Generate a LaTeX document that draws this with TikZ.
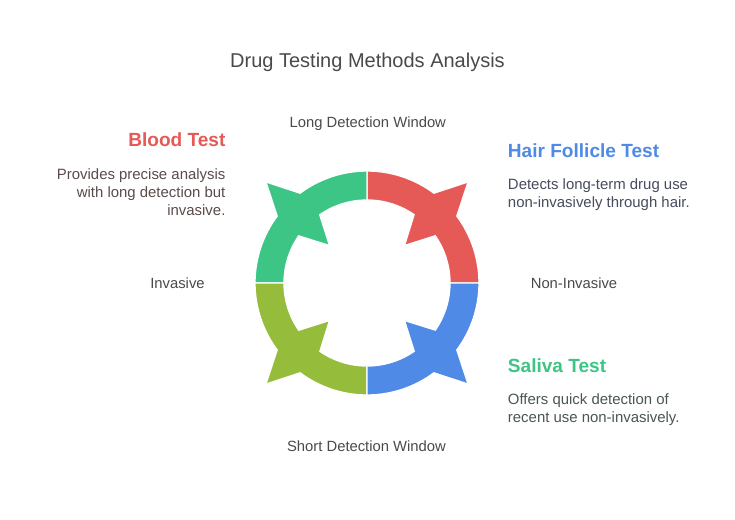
\documentclass[tikz,border=0pt]{standalone}
\usepackage{fontspec}
\setmainfont{Liberation Sans}
\usepackage{tikz}
\usetikzlibrary{calc}
\definecolor{segred}{HTML}{E55A56}
\definecolor{seggreen}{HTML}{3DC585}
\definecolor{seglime}{HTML}{95BC3A}
\definecolor{segblue}{HTML}{4E8AE6}
\definecolor{labelgray}{HTML}{4A4A4A}
\definecolor{blooddark}{HTML}{5C4B4B}
\definecolor{hairdark}{HTML}{464C5C}
\definecolor{salivadark}{HTML}{4B5651}
% one quarter of the ring: #1 start angle, #2 colour
\newcommand{\ringseg}[2]{%
  \fill[#2,draw=white,line width=1pt]
    (#1:112) arc[start angle=#1,end angle={#1+36.7},radius=112]
    -- ({#1+45}:143) -- ({#1+53.3}:112)
    arc[start angle={#1+53.3},end angle={#1+90},radius=112]
    -- ({#1+90}:83) arc[start angle={#1+90},end angle={#1+55.4},radius=83]
    -- ({#1+45}:53) -- ({#1+34.7}:83)
    arc[start angle={#1+34.7},end angle=#1,radius=83] -- cycle;}

\begin{document}
\begin{tikzpicture}[x=0.75pt,y=0.75pt,
    every node/.style={inner sep=0pt},
    axislabel/.style={font=\fontsize{11.1}{13}\selectfont,text=labelgray,anchor=base},
    heading/.style={font=\fontsize{14.3}{17}\selectfont\bfseries},
    desc/.style={font=\fontsize{11.2}{13.5}\selectfont}]

    \useasboundingbox[fill=white] (-367,-236) rectangle (368,283);

    % the four quarters of the ring
    \ringseg{0}{segred}
    \ringseg{90}{seggreen}
    \ringseg{180}{seglime}
    \ringseg{270}{segblue}

    % title
    \node (title) [anchor=base,font=\fontsize{15}{18}\selectfont,text=labelgray] at (0.5,215.3) {Drug Testing Methods Analysis};

    % axis labels
    \node (longwin) [axislabel] at (0.8,155.7) {Long Detection Window};
    \node (shortwin) [axislabel] at (-0.5,-168.3) {Short Detection Window};
    \node (invasive) [axislabel] at (-189.5,-5.3) {Invasive};
    \node (noninv) [axislabel] at (207,-5.3) {Non-Invasive};

    % blood test
    \node (bloodhead) [heading,text=segred,anchor=base east] at (-141.3,137) {Blood Test};
    \node (blooddesc) [desc,text=blooddark,align=right,anchor=base east] at (-141.3,67.5)
        {Provides precise analysis\\with long detection but\\invasive.};

    % hair follicle test
    \node (hairhead) [heading,text=segblue,anchor=base west] at (140.7,125.3) {Hair Follicle Test};
    \node (hairdesc) [desc,text=hairdark,align=left,anchor=base west] at (140.7,75.3)
        {Detects long-term drug use\\non-invasively through hair.};

    % saliva test
    \node (salivahead) [heading,text=seggreen,anchor=base west] at (140.7,-89.7) {Saliva Test};
    \node (salivadesc) [desc,text=salivadark,align=left,anchor=base west] at (140.7,-139.3)
        {Offers quick detection of\\recent use non-invasively.};

\end{tikzpicture}
\end{document}
